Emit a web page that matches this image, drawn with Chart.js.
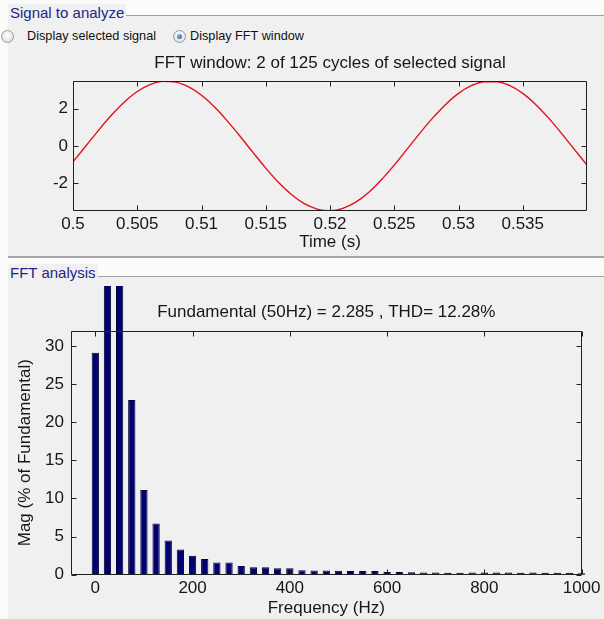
<!DOCTYPE html>
<html>
<head>
<meta charset="utf-8">
<title>FFT analysis</title>
<script src="https://cdn.jsdelivr.net/npm/chart.js@4.4.1/dist/chart.umd.min.js"></script>
<style>
  body {
    margin: 0;
    width: 604px;
    height: 619px;
    position: relative;
    overflow: hidden;
    background: #fbfbfb;
    font-family: "Liberation Sans", Arial, sans-serif;
  }
  .panel { position: absolute; left: 8px; right: 0; background: #f0f0f0; }
  #signalPanel { top: 15px; height: 241px; border-bottom: 2px solid #a5a5a5; }
  #fftPanel { top: 276px; bottom: 0; }
  .rule { position: absolute; left: 0; right: 0; top: 0; height: 1px; background: #a0a0a0; }
  .legend {
    position: absolute;
    color: #23238c;
    font-size: 15px;
    background: #f0f0f0;
    padding: 0 2px 0 2px;
    line-height: 18px;
  }
  .option { position: absolute; top: 29px; font-size: 12.7px; color: #111; line-height: 14px; }
  .radio {
    position: absolute;
    width: 11px;
    height: 11px;
    border-radius: 50%;
    border: 1px solid #9a9a9a;
    background: radial-gradient(circle at 50% 40%, #ffffff, #d8d8d8);
  }
  .radio.on::after {
    content: "";
    position: absolute;
    left: 3px; top: 3px;
    width: 5px; height: 5px;
    border-radius: 50%;
    background: radial-gradient(circle at 40% 35%, #7fb4ea, #1c4f9c);
  }
  canvas { position: absolute; left: 0; }
</style>
</head>
<body>
<div class="panel" id="signalPanel"><div class="rule"></div></div>
<div class="panel" id="fftPanel"><div class="rule"></div></div>
<div class="legend" style="left:8px; top:4px;">Signal to analyze</div>
<div class="legend" style="left:8px; top:264px;">FFT analysis</div>

<div class="radio" style="left:1px; top:30px;"></div>
<div class="option" style="left:27px;">Display selected signal</div>
<div class="radio on" style="left:173px; top:30px;"></div>
<div class="option" style="left:190px;">Display FFT window</div>

<canvas id="signalChart" width="604" height="206" style="top:50px; width:604px; height:206px;"></canvas>
<canvas id="fftChart" width="604" height="333" style="top:286px; width:604px; height:333px;"></canvas>

<script>
// FFT window: two cycles of the selected signal
const timeSec = [
  0.500, 0.501, 0.502, 0.503, 0.504, 0.505, 0.506, 0.507, 0.508, 0.509,
  0.510, 0.511, 0.512, 0.513, 0.514, 0.515, 0.516, 0.517, 0.518, 0.519,
  0.520, 0.521, 0.522, 0.523, 0.524, 0.525, 0.526, 0.527, 0.528, 0.529,
  0.530, 0.531, 0.532, 0.533, 0.534, 0.535, 0.536, 0.537, 0.538, 0.539,
  0.540
];
const signalValues = [
  -0.85, 0.00, 0.85, 1.65, 2.35, 2.91, 3.28, 3.45, 3.41, 3.15,
  2.71, 2.09, 1.34, 0.52, -0.34, -1.18, -1.95, -2.59, -3.08, -3.37,
  -3.46, -3.33, -3.00, -2.48, -1.80, -1.02, -0.17, 0.69, 1.50, 2.22,
  2.81, 3.22, 3.43, 3.43, 3.22, 2.81, 2.22, 1.50, 0.69, -0.17,
  -1.02
];
const timeTicks = [0.5, 0.505, 0.51, 0.515, 0.52, 0.525, 0.53, 0.535];
const signalTicks = [-2, 0, 2];

// Spectrum, magnitude in % of the 50 Hz fundamental
const freqHz = [
  0, 25, 50, 75, 100, 125, 150, 175, 200, 225,
  250, 275, 300, 325, 350, 375, 400, 425, 450, 475,
  500, 525, 550, 575, 600, 625, 650, 675, 700, 725,
  750, 775, 800, 825, 850, 875, 900, 925, 950, 975,
  1000
];
const magPercent = [
  29.1, 66.0, 100.0, 22.9, 11.1, 6.7, 4.5, 3.3, 2.5, 2.05,
  1.6, 1.6, 1.13, 0.97, 0.97, 0.83, 0.83, 0.6, 0.55, 0.55,
  0.52, 0.5, 0.5, 0.5, 0.35, 0.35, 0.33, 0.3, 0.3, 0.27,
  0.27, 0.3, 0.3, 0.3, 0.28, 0.26, 0.28, 0.26, 0.25, 0.25,
  0.2
];
const freqTicks = [0, 200, 400, 600, 800, 1000];
const magTicks = [0, 5, 10, 15, 20, 25, 30];

const FONT = { family: '"Liberation Sans", Arial, sans-serif', size: 17, lineHeight: 1.2 };
const INK = '#161616';

// matlab style box: full frame with inward ticks on all four sides
const axesBox = {
  id: 'axesBox',
  afterDatasetsDraw(chart) {
    const { ctx, chartArea: a, scales: { x, y } } = chart;
    const len = 5;
    const L = Math.round(a.left) + 0.5;
    const R = Math.round(a.right) - 0.5;
    const T = Math.round(a.top) + 0.5;
    const B = Math.round(a.bottom) - 0.5;
    ctx.save();
    ctx.strokeStyle = '#202020';
    ctx.lineWidth = 1;
    ctx.beginPath();
    ctx.rect(L, T, R - L, B - T);
    x.ticks.forEach(t => {
      const px = Math.round(x.getPixelForValue(t.value)) + 0.5;
      ctx.moveTo(px, B); ctx.lineTo(px, B - len);
      ctx.moveTo(px, T); ctx.lineTo(px, T + len);
    });
    y.ticks.forEach(t => {
      const py = Math.round(y.getPixelForValue(t.value)) + 0.5;
      ctx.moveTo(L, py); ctx.lineTo(L + len, py);
      ctx.moveTo(R, py); ctx.lineTo(R - len, py);
    });
    ctx.stroke();
    ctx.restore();
  }
};

const fixedTicks = list => scale => { scale.ticks = list.map(v => ({ value: v })); };
const trimNum = v => String(+Number(v).toFixed(4));

Chart.defaults.font = FONT;
Chart.defaults.color = INK;

new Chart(document.getElementById('signalChart'), {
  type: 'line',
  data: {
    datasets: [{
      data: timeSec.map((t, i) => ({ x: t, y: signalValues[i] })),
      borderColor: '#e0101c',
      borderWidth: 1.4,
      pointRadius: 0,
      cubicInterpolationMode: 'monotone'
    }]
  },
  options: {
    responsive: false,
    animation: false,
    layout: { padding: { left: 0, right: 17, top: 0, bottom: 0 } },
    plugins: {
      legend: { display: false },
      tooltip: { enabled: false },
      title: {
        display: true,
        fullSize: false,
        text: 'FFT window: 2 of 125 cycles of selected signal',
        font: { weight: 'normal' },
        color: INK,
        padding: { top: 3, bottom: 7.6 }
      }
    },
    scales: {
      x: {
        type: 'linear',
        min: 0.5,
        max: 0.54,
        afterBuildTicks: fixedTicks(timeTicks),
        afterFit: s => { s.height = 45; },
        grid: { display: false, drawTicks: false },
        border: { display: false },
        ticks: { padding: 3, maxRotation: 0, autoSkip: false, callback: v => trimNum(v) },
        title: { display: true, text: 'Time (s)', padding: { top: 0, bottom: 3 } }
      },
      y: {
        min: -3.47,
        max: 3.47,
        afterBuildTicks: fixedTicks(signalTicks),
        afterFit: s => { s.width = 73; },
        grid: { display: false, drawTicks: false },
        border: { display: false },
        ticks: { padding: 5, callback: v => trimNum(v) }
      }
    }
  },
  plugins: [axesBox]
});

new Chart(document.getElementById('fftChart'), {
  type: 'bar',
  data: {
    datasets: [{
      data: freqHz.map((f, i) => ({ x: f, y: magPercent[i] })),
      backgroundColor: '#00006e',
      borderColor: '#00003a',
      borderWidth: 1,
      barPercentage: 0.6,
      categoryPercentage: 1,
      clip: false
    }]
  },
  options: {
    responsive: false,
    animation: false,
    layout: { padding: { left: 0, right: 16, top: 0, bottom: 0 } },
    plugins: {
      legend: { display: false },
      tooltip: { enabled: false },
      title: {
        display: true,
        fullSize: false,
        text: 'Fundamental (50Hz) = 2.285 , THD= 12.28%',
        font: { weight: 'normal' },
        color: INK,
        padding: { top: 15.8, bottom: 8.5 }
      }
    },
    scales: {
      x: {
        type: 'linear',
        min: -50,
        max: 1000,
        offset: false,
        afterBuildTicks: fixedTicks(freqTicks),
        afterFit: s => { s.height = 44.3; },
        grid: { display: false, drawTicks: false, offset: false },
        border: { display: false },
        ticks: { padding: 3.5, maxRotation: 0, autoSkip: false, callback: v => trimNum(v) },
        title: { display: true, text: 'Frequency (Hz)', padding: { top: 0, bottom: 0 } }
      },
      y: {
        min: 0,
        max: 32,
        afterBuildTicks: fixedTicks(magTicks),
        afterFit: s => { s.width = 71; },
        grid: { display: false, drawTicks: false },
        border: { display: false },
        ticks: { padding: 7, callback: v => trimNum(v) },
        title: { display: true, text: 'Mag (% of Fundamental)', padding: { top: 15, bottom: 0 } }
      }
    }
  },
  plugins: [axesBox]
});
</script>
</body>
</html>
